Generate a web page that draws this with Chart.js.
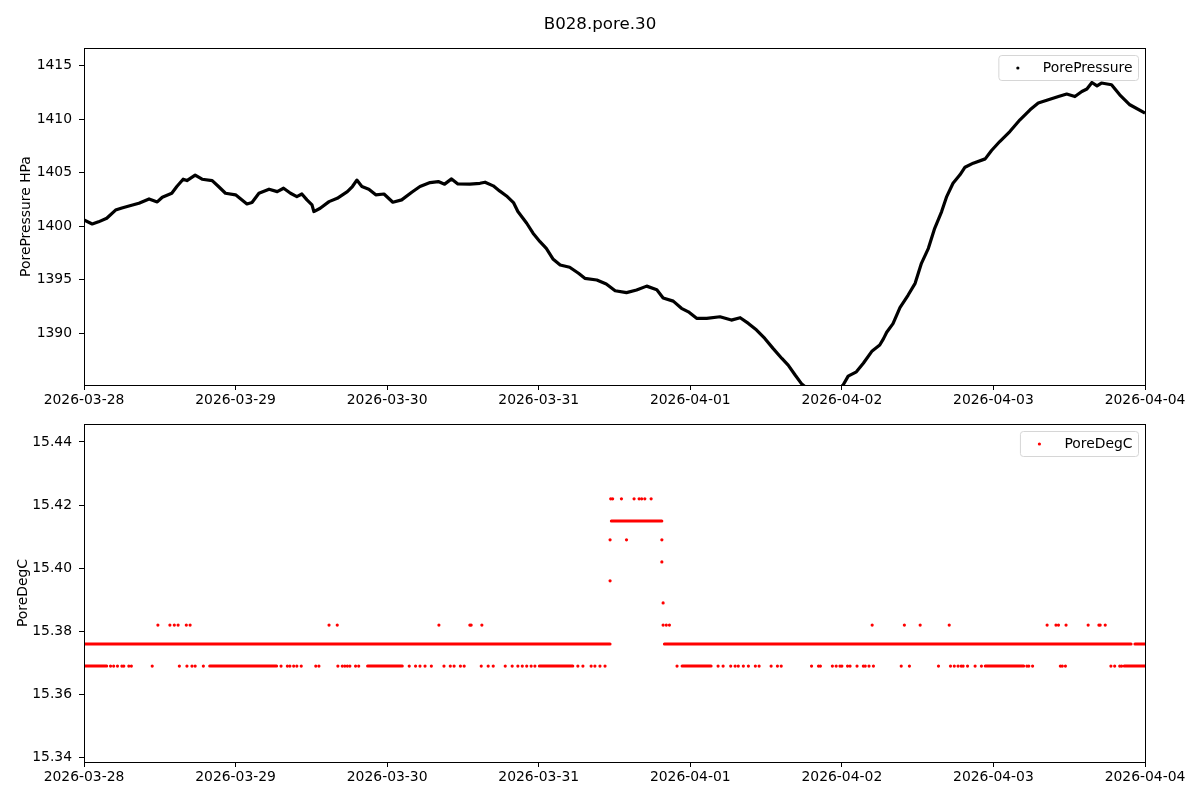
<!DOCTYPE html>
<html>
<head>
<meta charset="utf-8">
<script src="https://cdn.jsdelivr.net/npm/chart.js@4.4.0/dist/chart.umd.min.js"></script>
<style>
  body { margin: 0; background: #fff; font-family: "DejaVu Sans", sans-serif; }
  #fig { position: relative; width: 1200px; height: 800px; overflow: hidden; }
  #top { position: absolute; left: 0; top: 0; }
  #bottom { position: absolute; left: 0; top: 400px; }
  #title { position: absolute; left: 0; top: 13px; width: 1200px; text-align: center;
           font-size: 16.67px; line-height: 22px; color: #000; }
</style>
</head>
<body>
<div id="fig">
  <canvas id="top" width="1200" height="412"></canvas>
  <canvas id="bottom" width="1200" height="400"></canvas>
  <div id="title">B028.pore.30</div>
</div>
<script>
// x axis: hours since 2026-03-28 00:00
const dayTicks = [0, 24, 48, 72, 96, 120, 144, 168];
const dayLabels = ["2026-03-28", "2026-03-29", "2026-03-30", "2026-03-31",
                   "2026-04-01", "2026-04-02", "2026-04-03", "2026-04-04"];
const pressureTicks = [1390, 1395, 1400, 1405, 1410, 1415];
const tempTicks = [15.34, 15.36, 15.38, 15.40, 15.42, 15.44];

// PorePressure (HPa)
const pressureHours = [0, 1.3, 2.3, 3.6, 5.0, 6.0, 7.4, 8.7, 10.3, 11.6, 12.4, 13.9, 14.7, 15.7, 16.3,
  17.6, 18.7, 20.3, 21.3, 22.4, 24.0, 25.8, 26.6, 27.7, 29.3, 30.6, 31.6, 32.7, 33.7, 34.5, 35.3,
  36.1, 36.4, 37.4, 38.8, 40.1, 41.7, 42.5, 43.2, 44.0, 45.1, 46.2, 47.5, 48.9, 50.3, 51.9, 53.2,
  54.8, 56.1, 57.1, 58.2, 59.2, 61.1, 62.7, 63.5, 64.8, 65.8, 66.9, 68.0, 68.7, 70.1, 71.1, 72.2,
  73.2, 74.3, 75.4, 76.9, 78.3, 79.3, 81.2, 82.7, 84.1, 85.9, 87.5, 89.1, 90.7, 91.7, 93.3, 94.6,
  95.7, 97.0, 98.6, 100.7, 102.5, 103.9, 105.2, 106.5, 107.8, 109.1, 110.5, 111.5, 112.6, 113.6,
  115.0, 117.0, 119.0, 120.2, 121.0, 122.3, 123.4, 124.8, 126.0, 126.6, 127.1, 128.1, 129.2, 130.5,
  131.6, 132.6, 133.7, 134.7, 135.8, 136.6, 137.6, 138.7, 139.5, 140.8, 142.7, 143.7, 145.0, 146.6,
  148.2, 149.8, 151.1, 152.7, 154.3, 155.6, 156.9, 158.0, 158.8, 159.6, 160.4, 161.1, 162.7, 164.0,
  165.6, 168.0];
const pressureHPa = [1400.58, 1400.2, 1400.4, 1400.74, 1401.5, 1401.7, 1401.92, 1402.14, 1402.54,
  1402.26, 1402.7, 1403.07, 1403.7, 1404.38, 1404.25, 1404.76, 1404.38, 1404.25, 1403.7, 1403.07,
  1402.92, 1402.07, 1402.2, 1403.07, 1403.45, 1403.22, 1403.54, 1403.07, 1402.76, 1403.0, 1402.45,
  1401.98, 1401.36, 1401.67, 1402.29, 1402.6, 1403.22, 1403.7, 1404.3, 1403.7, 1403.45, 1402.92,
  1403.0, 1402.23, 1402.45, 1403.16, 1403.7, 1404.07, 1404.16, 1403.92, 1404.41, 1403.94, 1403.92,
  1404.0, 1404.1, 1403.76, 1403.29, 1402.82, 1402.2, 1401.36, 1400.27, 1399.34, 1398.55, 1397.93,
  1396.9, 1396.37, 1396.16, 1395.6, 1395.13, 1394.97, 1394.6, 1393.97, 1393.79, 1394.04, 1394.4,
  1394.07, 1393.3, 1393.0, 1392.33, 1392.0, 1391.39, 1391.39, 1391.54, 1391.23, 1391.45, 1390.92,
  1390.3, 1389.52, 1388.59, 1387.65, 1387.03, 1386.1, 1385.3, 1384.6, 1384.2, 1384.5, 1385.17,
  1386.0, 1386.4, 1387.2, 1388.35, 1388.9, 1389.5, 1390.1, 1390.9, 1392.4, 1393.57, 1394.66,
  1396.53, 1397.93, 1399.8, 1401.36, 1402.76, 1404.0, 1404.79, 1405.5, 1405.88, 1406.28, 1407.06,
  1407.9, 1408.83, 1409.93, 1410.86, 1411.49, 1411.8, 1412.1, 1412.33, 1412.1, 1412.57, 1412.8,
  1413.41, 1413.1, 1413.36, 1413.2, 1412.26, 1411.33, 1410.55];

// PoreDegC: the sensor reads in steps, so readings sit on a few levels.
// runs = [startHour, endHour] where the level is read continuously
const runs376 = [[0, 83.3], [91.9, 165.8], [166.4, 168]];
const runs415 = [[83.5, 91.5]];
const runs369 = [[0, 3.6], [19.9, 30.5], [44.9, 50.4], [72.1, 77.4], [94.7, 99.3], [142.7, 148.8], [164.7, 168]];
// single readings (hours)
const pts369 = [4.2, 4.7, 5.3, 6.0, 6.3, 7.1, 7.5, 10.8, 15.1, 16.3, 17.1, 17.6, 18.9, 31.2, 32.2,
  32.6, 33.2, 33.7, 34.4, 36.7, 37.2, 40.2, 40.9, 41.3, 41.7, 42.1, 43.0, 43.5, 51.5, 52.5, 53.2,
  54.0, 55.0, 57.0, 58.0, 58.6, 59.6, 60.2, 62.9, 64.0, 64.8, 66.7, 67.8, 68.7, 69.4, 70.1, 70.8,
  71.4, 78.2, 79.0, 80.3, 80.9, 81.7, 82.5, 93.9, 100.4, 101.2, 102.4, 103.1, 103.6, 104.4, 105.2,
  106.3, 106.9, 108.8, 109.8, 110.4, 115.2, 116.3, 116.6, 118.5, 119.1, 119.7, 120.0, 120.9, 121.3,
  122.4, 123.4, 123.7, 124.3, 125.0, 129.4, 130.7, 135.3, 137.2, 137.8, 138.4, 138.9, 139.2, 139.9,
  141.1, 142.1, 149.3, 149.6, 150.2, 154.6, 154.9, 155.4, 162.6, 163.2, 164.0, 164.3];
const pts382 = [11.7, 13.6, 14.3, 14.9, 16.2, 16.8, 38.8, 40.1, 56.2, 61.1, 61.3, 63.0, 91.7, 92.2,
  92.7, 124.8, 129.9, 132.4, 137.0, 152.5, 153.9, 154.3, 155.5, 159.0, 160.7, 160.9, 161.7];
const pts389 = [91.7];
const pts396 = [83.3];
const pts402 = [91.5];
const pts409 = [83.3, 85.9, 91.5];
const pts422 = [83.4, 83.7, 85.1, 87.1, 87.9, 88.3, 88.8, 89.8];

const FONT = "'DejaVu Sans', sans-serif";
Chart.defaults.font.family = FONT;
Chart.defaults.font.size = 13.9;
Chart.defaults.color = '#000';

// axes frame + matplotlib-like legend box
const frameLegend = {
  id: 'frameLegend',
  afterDraw(chart, args, opts) {
    const { ctx, chartArea: a } = chart;
    ctx.save();
    ctx.strokeStyle = '#000';
    ctx.lineWidth = 1;
    ctx.strokeRect(a.left + 0.5, a.top + 0.5, a.width, a.height);

    ctx.font = '13.9px ' + FONT;
    const tw = ctx.measureText(opts.label).width;
    const w = tw + 50, h = 25;
    const x = a.right - 7 - w, y = a.top + 7;
    ctx.beginPath();
    ctx.roundRect(x + 0.5, y + 0.5, w, h, 3);
    ctx.fillStyle = 'rgba(255,255,255,0.8)';
    ctx.fill();
    ctx.strokeStyle = '#d6d6d6';
    ctx.stroke();
    ctx.beginPath();
    ctx.arc(x + 19.5, y + h / 2 + 0.5, 1.6, 0, Math.PI * 2);
    ctx.fillStyle = opts.color;
    ctx.fill();
    ctx.fillStyle = '#000';
    ctx.textBaseline = 'middle';
    ctx.fillText(opts.label, x + 44.5, y + h / 2 + 1);
    ctx.restore();
  }
};

function xScale(height) {
  return {
    type: 'linear', min: 0, max: 168,
    afterBuildTicks: s => { s.ticks = dayTicks.map(v => ({ value: v })); },
    afterFit: s => { s.height = height; },
    ticks: { autoSkip: false, maxRotation: 0, minRotation: 0, padding: 2.5,
             callback: v => dayLabels[dayTicks.indexOf(v)] },
    grid: { drawOnChartArea: false, drawTicks: true, tickLength: 5, color: '#000', tickWidth: 1 },
    border: { display: false }
  };
}

function yScale(min, max, tickVals, title, titlePad, fmt) {
  return {
    type: 'linear', min: min, max: max,
    afterBuildTicks: s => { s.ticks = tickVals.map(v => ({ value: v })); },
    afterFit: s => { s.width = 84; },
    ticks: { padding: 7, callback: fmt },
    grid: { drawOnChartArea: false, drawTicks: true, tickLength: 5, color: '#000', tickWidth: 1 },
    border: { display: false },
    title: { display: true, text: title, padding: { top: titlePad, bottom: 0 }, font: { size: 13.9 } }
  };
}

// top: pressure
new Chart(document.getElementById('top'), {
  type: 'scatter',
  data: {
    datasets: [{
      label: 'PorePressure',
      data: pressureHours.map((h, i) => ({ x: h, y: pressureHPa[i] })),
      showLine: true, pointRadius: 0, borderColor: '#000', borderWidth: 3.2,
      borderJoinStyle: 'round', tension: 0, clip: 0
    }]
  },
  options: {
    responsive: false, devicePixelRatio: 1, animation: false,
    layout: { padding: { top: 48, right: 55, left: 0, bottom: 0 } },
    plugins: { legend: { display: false }, tooltip: { enabled: false },
               frameLegend: { label: 'PorePressure', color: '#000' } },
    scales: {
      x: xScale(27),
      y: yScale(1385.17, 1416.63, pressureTicks, 'PorePressure HPa', 18, v => String(v))
    }
  },
  plugins: [frameLegend]
});

// bottom: temperature
function runData(runs, level) {
  const out = [];
  runs.forEach(r => {
    out.push({ x: r[0], y: level }, { x: r[1], y: level }, { x: r[1], y: null });
  });
  return out;
}
const runPoints = [].concat(runData(runs376, 15.376), runData(runs415, 15.415), runData(runs369, 15.369));
const singlePoints = [].concat(
  pts369.map(h => ({ x: h, y: 15.369 })),
  pts382.map(h => ({ x: h, y: 15.382 })),
  pts389.map(h => ({ x: h, y: 15.389 })),
  pts396.map(h => ({ x: h, y: 15.396 })),
  pts402.map(h => ({ x: h, y: 15.402 })),
  pts409.map(h => ({ x: h, y: 15.409 })),
  pts422.map(h => ({ x: h, y: 15.422 }))
);

new Chart(document.getElementById('bottom'), {
  type: 'scatter',
  data: {
    datasets: [{
      label: 'PoreDegC runs',
      data: runPoints,
      showLine: true, spanGaps: false, pointRadius: 0, borderColor: '#ff0000', borderWidth: 3,
      borderCapStyle: 'round', clip: 0
    }, {
      label: 'PoreDegC',
      data: singlePoints,
      pointRadius: 1.6, pointBorderWidth: 0, backgroundColor: '#ff0000', borderColor: '#ff0000', clip: 0
    }]
  },
  options: {
    responsive: false, devicePixelRatio: 1, animation: false,
    layout: { padding: { top: 24, right: 55, left: 0, bottom: 0 } },
    plugins: { legend: { display: false }, tooltip: { enabled: false },
               frameLegend: { label: 'PoreDegC', color: '#ff0000' } },
    scales: {
      x: xScale(38),
      y: yScale(15.3386, 15.4457, tempTicks, 'PoreDegC', 15, v => v.toFixed(2))
    }
  },
  plugins: [frameLegend]
});
</script>
</body>
</html>
